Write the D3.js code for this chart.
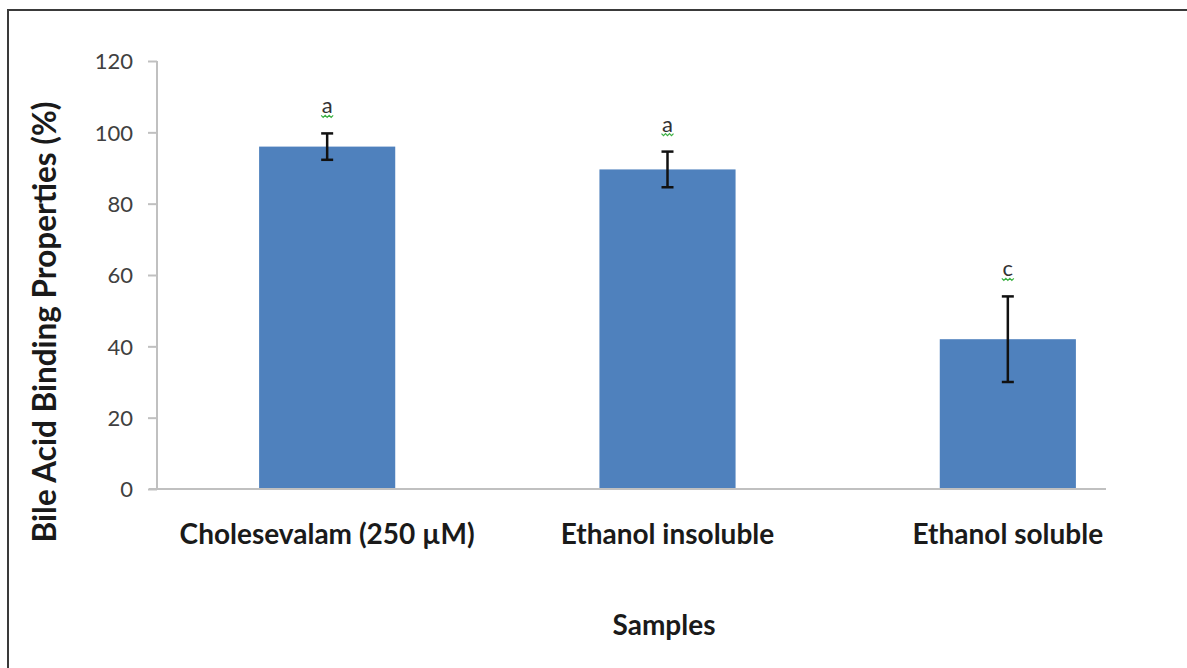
<!DOCTYPE html>
<html>
<head>
<meta charset="utf-8">
<script src="https://cdn.jsdelivr.net/npm/d3@7/dist/d3.min.js"></script>
<style>
  html, body { margin: 0; padding: 0; background: #fff; }
  svg { display: block; }
</style>
</head>
<body>
<svg id="chart" width="1187" height="668"></svg>
<script>
// Bile acid binding by sample, with standard deviation and significance letters
const categories = ["Cholesevalam (250 µM)", "Ethanol insoluble", "Ethanol soluble"];
const values = [96, 89.6, 42];
const errors = [3.7, 5, 12];
const letters = ["a", "a", "c"];
const yTicks = [0, 20, 40, 60, 80, 100, 120];

const svg = d3.select("#chart");
const font = "Lato, 'Open Sans', sans-serif";

// Frame around the chart area (runs past the right and bottom edges)
svg.append("rect")
  .attr("x", 8).attr("y", 10)
  .attr("width", 1400).attr("height", 900)
  .attr("fill", "none")
  .attr("stroke", "#3a3a3a")
  .attr("stroke-width", 2);

const axisLeft = 157, axisRight = 1106, yTop = 61, yBottom = 489;

const y = d3.scaleLinear().domain([0, 120]).range([yBottom, yTop]);
const x = d3.scaleBand()
  .domain(categories)
  .range([axisLeft, 1178])
  .paddingInner(0.6)
  .paddingOuter(0.3);

// Y axis
const yAxis = svg.append("g")
  .attr("transform", `translate(${axisLeft},0)`)
  .call(d3.axisLeft(y).tickValues(yTicks).tickSize(9).tickPadding(15).tickFormat(d3.format("d")));
yAxis.select(".domain").remove();
yAxis.selectAll(".tick line").attr("stroke", "#c0c0c0").attr("stroke-width", 2);
yAxis.selectAll(".tick text")
  .attr("fill", "#404040")
  .attr("dy", "0.36em")
  .style("font-family", font)
  .style("font-size", "22px");
svg.append("line")
  .attr("x1", axisLeft).attr("x2", axisLeft)
  .attr("y1", yTop).attr("y2", yBottom)
  .attr("stroke", "#c0c0c0").attr("stroke-width", 2);

// Bars
svg.append("g").selectAll("rect")
  .data(categories)
  .join("rect")
  .attr("x", d => x(d))
  .attr("width", x.bandwidth())
  .attr("y", (d, i) => y(values[i]))
  .attr("height", (d, i) => y(0) - y(values[i]))
  .attr("fill", "#4f81bd");

// X axis baseline
svg.append("line")
  .attr("x1", 149).attr("x2", axisRight)
  .attr("y1", y(0)).attr("y2", y(0))
  .attr("stroke", "#c0c0c0").attr("stroke-width", 2);

// Error bars
const eg = svg.append("g").attr("stroke", "#111").attr("stroke-width", 2.5).attr("fill", "none");
categories.forEach((c, i) => {
  const cx = x(c) + x.bandwidth() / 2;
  const hi = y(values[i] + errors[i]), lo = y(values[i] - errors[i]);
  eg.append("line").attr("x1", cx).attr("x2", cx).attr("y1", hi).attr("y2", lo);
  eg.append("line").attr("x1", cx - 6).attr("x2", cx + 6).attr("y1", hi).attr("y2", hi);
  eg.append("line").attr("x1", cx - 6).attr("x2", cx + 6).attr("y1", lo).attr("y2", lo);
});

// Significance letters
const lg = svg.append("g");
categories.forEach((c, i) => {
  const cx = x(c) + x.bandwidth() / 2;
  const by = y(values[i] + errors[i]) - 20;
  lg.append("text")
    .attr("x", cx).attr("y", by)
    .attr("text-anchor", "middle")
    .attr("fill", "#333")
    .style("font-family", font)
    .style("font-size", "22px")
    .text(letters[i]);
  const sq = d3.path();
  sq.moveTo(cx - 6, by + 2);
  for (let k = 0; k < 6; k++) sq.lineTo(cx - 6 + (k + 1) * 2, by + (k % 2 === 0 ? 4 : 2));
  lg.append("path").attr("d", sq.toString())
    .attr("fill", "none").attr("stroke", "#3cb043").attr("stroke-width", 1.2);
});

// Category labels
svg.append("g").selectAll("text")
  .data(categories)
  .join("text")
  .attr("x", d => x(d) + x.bandwidth() / 2)
  .attr("y", 544)
  .attr("text-anchor", "middle")
  .attr("fill", "#1a1a1a")
  .style("font-family", font)
  .style("font-weight", "bold")
  .style("font-size", "28px")
  .text(d => d);

// Axis titles
svg.append("text")
  .attr("x", 664).attr("y", 635)
  .attr("text-anchor", "middle")
  .attr("fill", "#1a1a1a")
  .style("font-family", font)
  .style("font-weight", "bold")
  .style("font-size", "28px")
  .text("Samples");

svg.append("text")
  .attr("transform", "translate(56,322) rotate(-90)")
  .attr("text-anchor", "middle")
  .attr("fill", "#1a1a1a")
  .style("font-family", font)
  .style("font-weight", "bold")
  .style("font-size", "31.5px")
  .text("Bile Acid Binding Properties (%)");
</script>
</body>
</html>
